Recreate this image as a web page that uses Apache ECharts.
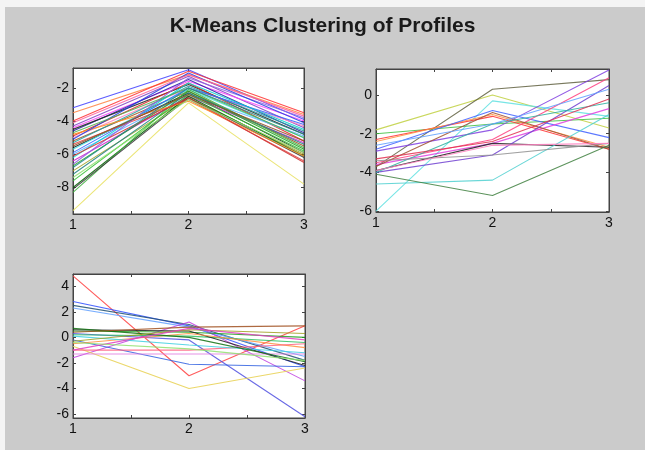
<!DOCTYPE html>
<html>
<head>
<meta charset="utf-8">
<script src="https://cdn.jsdelivr.net/npm/echarts@6/dist/echarts.min.js"></script>
<style>
  html, body { margin: 0; padding: 0; background: #fff; }
  #chart { width: 645px; height: 450px; }
</style>
</head>
<body>
<div id="chart"></div>
<script>
// x positions of the three profile points
const xs = [1, 2, 3]
const xTicks = [1, 1.5, 2, 2.5, 3]
const xLabels = [1, 2, 3]

// cluster 1 profiles
const cluster1 = [
    [-3.2, -0.9, -3.9], [-3.5, -1.2, -3.6], [-4.0, -1.0, -3.5], [-4.3, -1.3, -4.4],
    [-4.4, -1.6, -4.0], [-4.6, -1.5, -4.7], [-4.5, -1.8, -4.8], [-4.9, -1.7, -5.2],
    [-5.0, -2.0, -4.3], [-5.2, -2.2, -5.5], [-5.3, -1.9, -4.6], [-5.6, -2.3, -5.9],
    [-5.7, -2.1, -5.0], [-5.9, -2.0, -4.2], [-6.0, -2.4, -4.9], [-6.2, -1.7, -4.5],
    [-6.4, -2.5, -5.3], [-6.7, -2.2, -5.7], [-7.0, -2.6, -6.0], [-7.2, -2.3, -5.4],
    [-7.6, -2.4, -5.8], [-8.0, -2.5, -6.1], [-8.3, -2.1, -5.6], [-8.1, -2.6, -6.2],
    [-9.4, -2.9, -7.8], [-5.4, -2.7, -6.4], [-4.8, -2.8, -6.1], [-6.6, -1.4, -3.8],
    [-5.1, -1.1, -4.1], [-4.7, -2.0, -5.0], [-6.1, -2.6, -6.5], [-5.5, -2.4, -5.2],
    [-7.4, -2.7, -5.9], [-4.1, -1.2, -3.7], [-6.8, -2.0, -4.8]
]
const colors1 = [
    '#4040ff', '#ff8040', '#ff3030', '#8040c0', '#ff40ff', '#2020a0', '#202020', '#e02020',
    '#ff80c0', '#a05020', '#20a0a0', '#101010', '#40e0e0', '#3060ff', '#60b0ff', '#00d0d0',
    '#d020d0', '#20a020', '#a0a020', '#208080', '#30c030', '#006000', '#40b040', '#303030',
    '#e8e060', '#e04040', '#ff9020', '#9060e0', '#2040e0', '#50b050', '#d03030', '#905020',
    '#90e070', '#ff60a0', '#208888'
]

// cluster 2 profiles
const cluster2 = [
    [-1.8, 0.0, -1.7], [-3.7, 0.3, 0.8], [-6.0, -0.3, -1.1], [-2.0, -1.5, -1.2],
    [-2.3, -1.1, -2.8], [-2.4, -1.0, -2.7], [-2.8, -0.8, -2.2], [-2.9, -1.8, 1.3],
    [-3.5, -2.3, 0.9], [-3.6, -2.5, -0.7], [-3.9, -2.5, -2.7], [-3.7, -0.9, -2.8],
    [-4.0, -3.1, 0.5], [-4.0, -1.5, -0.4], [-4.6, -4.4, -1.0], [-4.1, -5.2, -2.6],
    [-3.4, -3.1, -2.5], [-2.6, -1.5, 0.3], [-3.3, -2.4, -0.2], [-3.9, -2.6, -2.5]
]
const colors2 = [
    '#c0d040', '#606040', '#60e0e0', '#40c040', '#ff3030', '#ff9040', '#4060ff', '#8040e0',
    '#ff4080', '#e040e0', '#202020', '#a05030', '#7040d0', '#30b0a0', '#50d0d0', '#408040',
    '#909090', '#60a0ff', '#e03050', '#ff80c0'
]

// cluster 3 profiles
const cluster3 = [
    [4.8, -3.0, 0.9], [2.8, 0.9, -2.3], [2.5, 1.0, -1.8], [2.3, 0.8, -1.5],
    [0.3, -0.2, -6.2], [-1.6, 1.2, -3.4], [-0.7, -4.0, -2.4], [-0.2, -2.1, -2.3],
    [0.5, 0.4, 0.0], [0.2, 0.1, -0.4], [0.6, 0.5, -2.2], [-0.5, 0.3, -0.8],
    [-1.0, -1.0, -0.5], [0.1, -0.6, -1.2], [-1.3, -1.3, -1.3], [0.7, 0.0, -1.9],
    [-0.3, 0.6, 0.3], [-1.0, 0.7, -0.2], [0.4, 0.8, 0.9], [-0.4, -0.9, -1.8]
]
const colors3 = [
    '#ff4040', '#3050ff', '#205070', '#60a0ff', '#5050e0', '#c040e0', '#e8d050', '#3060e0',
    '#20a020', '#30c060', '#202020', '#ff9040', '#ff6080', '#40d0e0', '#e080e0', '#107010',
    '#a0a020', '#e040c0', '#a05020', '#90e070'
]

// y ticks per panel
const yTicks1 = [-8, -6, -4, -2]
const yTicks2 = [-6, -4, -2, 0]
const yTicks3 = [-6, -4, -2, 0, 2, 4]

const panels = [
    { data: cluster1, colors: colors1, ticks: yTicks1, min: -9.6, max: -0.8, grid: { left: 73, top: 68, width: 231, height: 146 } },
    { data: cluster2, colors: colors2, ticks: yTicks2, min: -6.05, max: 1.35, grid: { left: 376, top: 69, width: 233, height: 143 } },
    { data: cluster3, colors: colors3, ticks: yTicks3, min: -6.3, max: 4.95, grid: { left: 73, top: 274, width: 232, height: 144 } }
]

const labelStyle = { color: '#111', fontSize: 14, fontFamily: 'Liberation Sans, Arial, sans-serif' }
const axisLine = { show: true, onZero: false, lineStyle: { color: '#444', width: 1 } }
const tickStyle = { color: '#444' }

const grid = [], xAxis = [], yAxis = [], series = []
panels.forEach((p, i) => {
    grid.push(Object.assign({ show: true, backgroundColor: '#fff', borderColor: '#444', borderWidth: 1 }, p.grid))
    // bottom + top x axes
    xAxis.push({
        type: 'value', gridIndex: i, min: 1, max: 3, position: 'bottom',
        axisLine: axisLine, splitLine: { show: false },
        axisTick: { inside: true, length: 3, customValues: xTicks, lineStyle: tickStyle },
        axisLabel: Object.assign({ customValues: xLabels, margin: 4 }, labelStyle)
    })
    xAxis.push({
        type: 'value', gridIndex: i, min: 1, max: 3, position: 'top',
        axisLine: axisLine, splitLine: { show: false },
        axisTick: { inside: true, length: 3, customValues: xTicks, lineStyle: tickStyle },
        axisLabel: { show: false }
    })
    // left + right y axes
    yAxis.push({
        type: 'value', gridIndex: i, min: p.min, max: p.max, position: 'left',
        axisLine: axisLine, splitLine: { show: false },
        axisTick: { inside: true, length: 3, customValues: p.ticks, lineStyle: tickStyle },
        axisLabel: Object.assign({ customValues: p.ticks, margin: 4 }, labelStyle)
    })
    yAxis.push({
        type: 'value', gridIndex: i, min: p.min, max: p.max, position: 'right',
        axisLine: axisLine, splitLine: { show: false },
        axisTick: { inside: true, length: 3, customValues: p.ticks, lineStyle: tickStyle },
        axisLabel: { show: false }
    })
    p.data.forEach((row, j) => {
        series.push({
            type: 'line',
            xAxisIndex: i * 2,
            yAxisIndex: i * 2,
            data: xs.map((x, k) => [x, row[k]]),
            symbol: 'none',
            silent: true,
            animation: false,
            lineStyle: { width: 1.1, color: p.colors[j % p.colors.length], opacity: 0.85 }
        })
    })
})

const chart = echarts.init(document.getElementById('chart'))
chart.setOption({
    backgroundColor: '#cbcbcb',
    animation: false,
    title: {
        text: 'K-Means Clustering of Profiles',
        left: 'center',
        top: 11,
        textStyle: { fontSize: 21, fontWeight: 'bold', color: '#1a1a1a', fontFamily: 'Liberation Sans, Arial, sans-serif' }
    },
    graphic: [
        { type: 'rect', left: 0, top: 0, shape: { width: 645, height: 7 }, style: { fill: '#f4f4f4' } },
        { type: 'rect', left: 0, top: 0, shape: { width: 5, height: 450 }, style: { fill: '#f4f4f4' } }
    ],
    grid: grid,
    xAxis: xAxis,
    yAxis: yAxis,
    series: series
})
</script>
</body>
</html>
